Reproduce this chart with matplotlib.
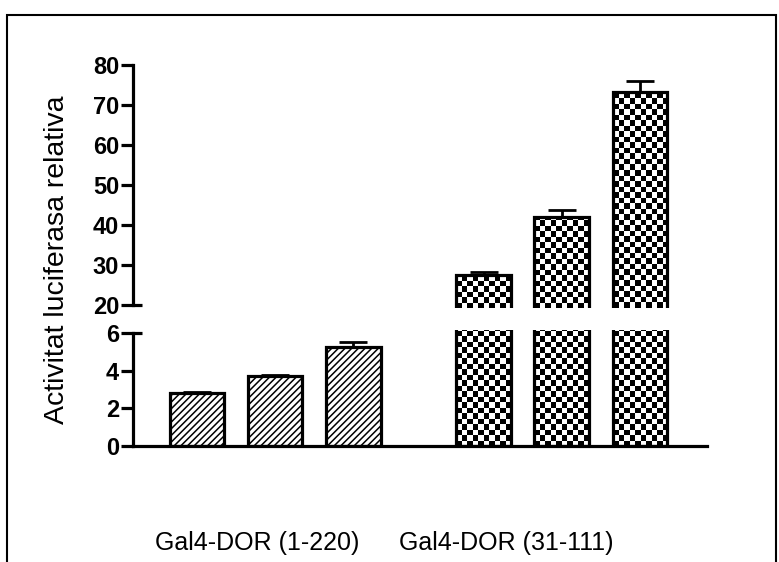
import numpy as np
import matplotlib
matplotlib.use("Agg")
import matplotlib.pyplot as plt
from matplotlib.patches import Rectangle
import matplotlib.transforms as mtransforms

# ---- data ----
groups = ["Gal4-DOR (1-220)", "Gal4-DOR (31-111)"]
values_g1 = [2.8, 3.7, 5.27]
errors_g1 = [0.05, 0.05, 0.25]
values_g2 = [27.5, 42.0, 73.3]
errors_g2 = [0.8, 1.8, 2.7]
lower_ticks = [0, 2, 4, 6]
upper_ticks = [20, 30, 40, 50, 60, 70, 80]
ylabel = "Activitat luciferasa relativa"

W, H = 779, 562
DPI = 100
plt.rcParams['font.family'] = ['Liberation Sans', 'DejaVu Sans']
plt.rcParams['hatch.linewidth'] = 1.1

fig = plt.figure(figsize=(W / DPI, H / DPI), dpi=DPI)

def px(x0, y0, x1, y1):
    return [x0 / W, 1 - y1 / H, (x1 - x0) / W, (y1 - y0) / H]

ax_bot = fig.add_axes(px(133, 333, 707, 446))
ax_top = fig.add_axes(px(133, 65, 707, 305))

pos_g1 = np.array([0.0, 1.0, 2.0])
pos_g2 = np.array([3.67, 4.67, 5.67])
bw = 0.7
xlim = (-0.82, 6.53)
lw = 2.3

for ax, ylim in ((ax_bot, (0, 6)), (ax_top, (20, 80))):
    ax.set_xlim(*xlim)
    ax.set_ylim(*ylim)
    ax.set_xticks([])
    for s in ('top', 'right'):
        ax.spines[s].set_visible(False)
    ax.spines['left'].set_linewidth(lw)
    ax.spines['bottom'].set_linewidth(lw)
    ax.tick_params(axis='y', length=9, width=lw, labelsize=17, pad=1)
ax_top.spines['bottom'].set_visible(False)
ax_top.set_yticks(upper_ticks)
ax_bot.set_yticks(lower_ticks)
for ax in (ax_bot, ax_top):
    for lab in ax.get_yticklabels():
        lab.set_fontweight('bold')
    ax.patch.set_visible(False)

# hatched bars (group 1) in lower axes
ax_bot.bar(pos_g1, values_g1, width=bw, facecolor='white', edgecolor='black',
           linewidth=lw, hatch='/////', zorder=2)
ax_bot.errorbar(pos_g1, values_g1, yerr=[[0] * 3, errors_g1], fmt='none',
                ecolor='black', elinewidth=2, capsize=10, capthick=2, zorder=3)

# checkered bars (group 2) in both axes
cell = 5.5  # pixels
ext = 3.0   # pixels the broken bars extend past the axis limits
for ax in (ax_bot, ax_top):
    y0l, y1l = ax.get_ylim()
    (_, p0), (_, p1) = ax.transData.transform([(0, y0l), (0, y1l)])
    dpp = (y1l - y0l) / (p1 - p0)  # data per pixel
    lo = y0l if y0l == 0 else y0l - ext * dpp
    hi = y1l + ext * dpp
    bars = ax.bar(pos_g2, values_g2, width=bw, facecolor='none', edgecolor='black',
                  linewidth=lw, zorder=2)
    for b, v in zip(bars, values_g2):
        xa = b.get_x()
        xb = xa + b.get_width()
        ya = lo
        yb = min(v, hi)
        clip = Rectangle((xa, ya), xb - xa, yb - ya, transform=ax.transData,
                         facecolor='none', edgecolor='none')
        (pxa, pya), (pxb, pyb) = ax.transData.transform([(xa, ya), (xb, yb)])
        nx = int(np.ceil((pxb - pxa) / cell)) + 1
        ny = int(np.ceil((pyb - pya) / cell)) + 1
        cdx = (xb - xa) / ((pxb - pxa) / cell)
        cdy = (yb - ya) / ((pyb - pya) / cell)
        arr = (np.add.outer(np.arange(ny), np.arange(nx)) % 2).astype(float)
        im = ax.imshow(arr, cmap='gray', vmin=0, vmax=1, interpolation='nearest',
                       extent=(xa, xa + nx * cdx, ya, ya + ny * cdy),
                       origin='lower', aspect='auto', zorder=1)
        im.set_clip_path(clip)
        # side edges through the extension
        b.set_clip_path(Rectangle((xa - 1, lo), xb - xa + 2, hi - lo,
                                  transform=ax.transData))
    ax.set_xlim(*xlim)
    ax.set_ylim(y0l, y1l)

ax_top.errorbar(pos_g2, values_g2, yerr=[[0] * 3, errors_g2], fmt='none',
                ecolor='black', elinewidth=2, capsize=10, capthick=2, zorder=3)

# axis break marks
for ax, yv in ((ax_top, 20), (ax_bot, 6)):
    trans = mtransforms.blended_transform_factory(ax.transAxes, ax.transData)
    ax.plot([0, 9 / 574], [yv, yv], color='black', lw=lw, transform=trans,
            clip_on=False, solid_capstyle='butt')

# group labels
fig.text(257 / W, 1 - 543 / H, groups[0], ha='center', va='center', fontsize=18)
fig.text(506 / W, 1 - 543 / H, groups[1], ha='center', va='center', fontsize=18)

# y label
fig.text(57 / W, 1 - 260 / H, ylabel, rotation=90, ha='center', va='center', fontsize=20.5)

# frame
fig.add_artist(Rectangle((7 / W, -0.05), (776 - 7) / W, 1.05 - 15 / H,
                         transform=fig.transFigure, fill=False,
                         edgecolor='black', linewidth=1.5))

fig.savefig("out.png", dpi=DPI)
